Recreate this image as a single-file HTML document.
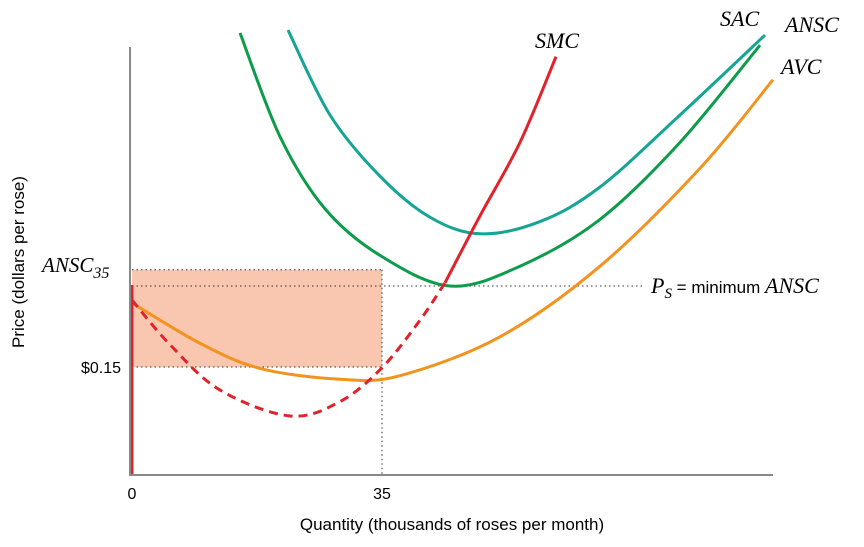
<!DOCTYPE html>
<html><head><meta charset="utf-8"><style>
body{margin:0;background:#fff}
svg text{font-family:"Liberation Sans",sans-serif}
.it{font-family:"Liberation Serif",serif;font-style:italic}
</style></head><body>
<svg id="c" width="864" height="542">
<g id="g"></g>
</svg>
<script>
const avcQ=[0,9.52,17.92,29.12,37.52,51.52,65.52,79.52,89.74];
const avcP=[0.239,0.183,0.148,0.133,0.138,0.192,0.29,0.426,0.549];
const anscQ=[15.12,20.72,27,34.72,44.52,54.32,65.52,76.72,87.92];
const anscP=[0.614,0.47,0.37,0.305,0.2625,0.29,0.355,0.462,0.597];
const sacQ=[21.84,27.72,34.72,41.72,48.72,57.12,65.52,76.72,88.62];
const sacP=[0.618,0.5,0.415,0.358,0.335,0.352,0.4,0.5,0.611];
const smcDashQ=[0,5.32,12.32,22.12,29.12,35,40.32,43.82];
const smcDashP=[0.243,0.181,0.118,0.082,0.102,0.149,0.215,0.267];
const smcQ=[43.82,48.72,54.32,59.36];
const smcP=[0.267,0.36,0.462,0.581];
const xTicks=[0,35];
const priceLevels=[0.15,0.285,0.2625];
const NS='http://www.w3.org/2000/svg';
const X=q=>132+q*7.143, Y=p=>475-p*720;
const g=document.getElementById('g');
function el(t,a,txt,parent){const e=document.createElementNS(NS,t);for(const k in a)e.setAttribute(k,a[k]);if(txt!=null)e.textContent=txt;(parent||g).appendChild(e);return e;}
function path(qs,ps){const pts=qs.map((q,i)=>[X(q),Y(ps[i])]);let d='M'+pts[0];for(let i=0;i<pts.length-1;i++){const p0=pts[i-1]||pts[i],p1=pts[i],p2=pts[i+1],p3=pts[i+2]||p2;d+=' C'+(p1[0]+(p2[0]-p0[0])/6)+','+(p1[1]+(p2[1]-p0[1])/6)+' '+(p2[0]-(p3[0]-p1[0])/6)+','+(p2[1]-(p3[1]-p1[1])/6)+' '+p2;}return d;}
let r=el('rect',{x:X(0),y:Y(priceLevels[1]),width:X(35)-X(0),height:Y(priceLevels[0])-Y(priceLevels[1]),fill:'#f9c6b0'});

const dot={stroke:'#333','stroke-width':1,'stroke-dasharray':'1.5,3'};
let l=el('line',Object.assign({x1:X(0),x2:X(35),y1:Y(priceLevels[1]),y2:Y(priceLevels[1])},dot));
l=el('line',Object.assign({x1:X(0),x2:X(35),y1:Y(priceLevels[0]),y2:Y(priceLevels[0])},dot));
l=el('line',Object.assign({x1:X(35),x2:X(35),y1:Y(priceLevels[1]),y2:475},dot));
l=el('line',Object.assign({x1:X(0),x2:645,y1:Y(priceLevels[2]),y2:Y(priceLevels[2])},dot));
const curves=[['sac-curve',sacQ,sacP,'#16a594',''],['ansc-curve',anscQ,anscP,'#0c9c4a',''],['avc-curve',avcQ,avcP,'#f3931f',''],['smc-dashed',smcDashQ,smcDashP,'#e2222b','9,6'],['smc-curve',smcQ,smcP,'#e2222b','']];
curves.forEach(c=>{const e=el('path',{d:path(c[1],c[2]),fill:'none',stroke:c[3],'stroke-width':3,'stroke-dasharray':c[4]});});
l=el('line',{x1:X(0),x2:X(0),y1:475,y2:Y(smcDashP[0])-15,stroke:'#e2222b','stroke-width':3});
l=el('line',{x1:130,x2:130,y1:47,y2:476,stroke:'#888','stroke-width':2});
l=el('line',{x1:129,x2:773,y1:475,y2:475,stroke:'#888','stroke-width':2});
xTicks.forEach(t=>{const e=el('text',{x:X(t),y:499,'text-anchor':'middle','font-size':16},String(t));});
let t=el('text',{x:452,y:530,'text-anchor':'middle','font-size':17},'Quantity (thousands of roses per month)');
t=el('text',{x:24,y:262,'text-anchor':'middle','font-size':17,transform:'rotate(-90 24 262)'},'Price (dollars per rose)');
t=el('text',{x:121,y:373,'text-anchor':'end','font-size':16},'$0.15');
t=el('text',{x:42,y:272,'font-size':21,class:'it'},'ANSC');
el('tspan',{'font-size':16,dy:6},'35',t);
t=el('text',{x:651,y:293,'font-size':17},'');
el('tspan',{class:'it','font-size':22},'P',t);
el('tspan',{class:'it','font-size':15,dy:5},'S',t);
el('tspan',{dy:-5},' = minimum ',t);
el('tspan',{class:'it','font-size':22},'ANSC',t);
[['smc-label','SMC',535,48],['sac-label','SAC',720,26],['ansc-label','ANSC',785,32],['avc-label','AVC',781,74]].forEach(a=>{const e=el('text',{x:a[2],y:a[3],'font-size':22,class:'it'},a[1]);});
</script>
</body></html>
